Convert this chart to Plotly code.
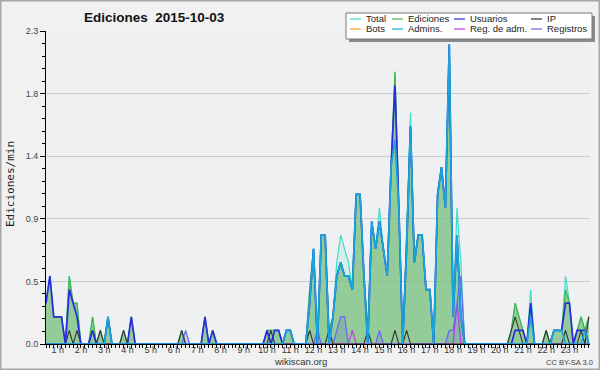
import plotly.graph_objects as go
import pandas as pd

# ---------------- data (10-minute bins, edits per minute) ----------------
START = "2015-10-03 00:30"
N = 141

total = [0.3,0.5,0.2,0.2,0.2,0,0.5,0.3,0.3,0,
         0,0,0.2,0,0.1,0,0.2,0,0,0,
         0.1,0,0.2,0,0,0,0,0,0,0,
         0,0,0,0,0,0.1,0,0,0,0,
         0,0.2,0,0.1,0,0,0,0,0,0,
         0,0,0,0,0,0,0,0.1,0.1,0.1,
         0.1,0,0.1,0.1,0,0,0,0,0.4,0.7,
         0,0.8,0.8,0.1,0.2,0.6,0.8,0.7,0.6,0.4,
         1.1,1.1,0.5,0.1,0.9,0.7,1.0,0.7,0.5,1.3,
         2.0,1.0,0,0.8,1.7,0.6,0.8,0.8,0.4,0.4,
         0,1.1,1.3,1.0,2.2,0.2,1.0,0.6,0,0,
         0,0,0,0,0,0,0,0,0,0,
         0.1,0.3,0.2,0.1,0,0.4,0,0,0,0.1,
         0,0.1,0.1,0.1,0.5,0.3,0,0.1,0.2,0.1,
         0.2]
edits = [0.3,0.5,0.2,0.2,0.2,0,0.5,0.3,0.3,0,
         0,0,0.2,0,0.1,0,0.2,0,0,0,
         0.1,0,0.2,0,0,0,0,0,0,0,
         0,0,0,0,0,0.1,0,0,0,0,
         0,0.2,0,0.1,0,0,0,0,0,0,
         0,0,0,0,0,0,0,0.1,0.1,0.1,
         0.1,0,0.1,0.1,0,0,0,0,0.4,0.7,
         0,0.8,0.8,0.1,0.2,0.5,0.6,0.5,0.5,0.4,
         1.1,1.1,0.5,0.1,0.9,0.7,0.9,0.7,0.5,1.3,
         2.0,1.0,0,0.8,1.6,0.6,0.8,0.8,0.4,0.4,
         0,1.1,1.3,1.0,2.2,0.2,0.8,0.2,0,0,
         0,0,0,0,0,0,0,0,0,0,
         0.1,0.3,0.2,0.1,0,0.3,0,0,0,0.1,
         0,0.1,0.1,0.1,0.4,0.3,0,0.1,0.2,0.1,
         0.2]
users = [0.3,0.5,0.2,0.2,0.2,0,0.4,0.3,0.2,0,
         0,0,0.1,0,0,0,0.2,0,0,0,
         0,0,0.2,0,0,0,0,0,0,0,
         0,0,0,0,0,0,0,0,0,0,
         0,0.2,0,0.1,0,0,0,0,0,0,
         0,0,0,0,0,0,0,0.1,0,0.1,
         0.1,0,0.1,0.1,0,0,0,0,0.3,0.7,
         0,0.8,0.8,0,0.2,0.5,0.6,0.5,0.5,0.4,
         1.1,1.1,0.5,0,0.9,0.7,0.9,0.7,0.5,1.3,
         1.9,1.0,0,0.7,1.6,0.6,0.8,0.8,0.4,0.4,
         0,1.1,1.3,1.0,2.2,0.2,0.8,0.2,0,0,
         0,0,0,0,0,0,0,0,0,0,
         0,0.1,0.1,0.1,0,0.3,0,0,0,0,
         0,0.1,0.1,0.1,0.3,0.3,0,0.1,0.1,0.1,
         0]
ip = [0,0,0,0,0,0,0.1,0,0.1,0,
      0,0,0.1,0,0.1,0,0,0,0,0,
      0.1,0,0,0,0,0,0,0,0,0,
      0,0,0,0,0,0.1,0,0,0,0,
      0,0,0,0,0,0,0,0,0,0,
      0,0,0,0,0,0,0,0,0.1,0,
      0,0,0,0,0,0,0,0,0.1,0,
      0,0,0,0.1,0,0,0,0,0,0,
      0,0,0,0.1,0,0,0,0,0,0,
      0.1,0,0,0.1,0,0,0,0,0,0,
      0,0,0,0,0,0,0,0,0,0,
      0,0,0,0,0,0,0,0,0,0,
      0.1,0.2,0.1,0,0,0,0,0,0,0.1,
      0,0,0,0,0.1,0,0,0,0.1,0,
      0.2]
bots = [0]*N
admins = [0,0,0,0,0,0,0,0,0,0,
          0,0,0,0,0,0,0.2,0,0,0,
          0,0,0,0,0,0,0,0,0,0,
          0,0,0,0,0,0,0,0,0,0,
          0,0,0,0,0,0,0,0,0,0,
          0,0,0,0,0,0,0,0,0,0,
          0,0,0.1,0.1,0,0,0,0,0.3,0.7,
          0,0.8,0.8,0,0.2,0.5,0.6,0.5,0.5,0.4,
          1.1,1.1,0.5,0,0.9,0.7,0.9,0.7,0.5,1.3,
          1.5,1.0,0,0.7,1.6,0.6,0.8,0.8,0.4,0.4,
          0,1.1,1.3,1.0,2.2,0.2,0.8,0.2,0,0,
          0,0,0,0,0,0,0,0,0,0,
          0,0,0,0,0,0.2,0,0,0,0,
          0,0.1,0.1,0.1,0,0,0,0,0,0.1,
          0]
reg_admins = [0]*79 + [0.1] + [0]*26 + [0.3] + [0]*34
registros = [0]*36 + [0.1] + [0]*33 + [0.1] + [0]*4 + [0.1,0.2,0.2] + [0]*8 + [0.1] + [0]*17 + [0.1,0.1,0.3,0.5] + [0]*33

names = ["Total", "Ediciones", "Usuarios", "IP", "Bots", "Admins.", "Reg. de adm.", "Registros"]
colors = ["#40dcc8", "#46b446", "#2a2ae0", "#333333", "#ff9a30", "#1aa6dc", "#cc33ee", "#6a6af0"]
series = [total, edits, users, ip, bots, admins, reg_admins, registros]

hour_ticks = list(range(1, 24))
hour_labels = [f"{h} h" for h in hour_ticks]

# ---------------- figure ----------------
times = pd.date_range(START, periods=N, freq="10min")

fig = go.Figure()
draw_order = [0, 1, 4, 6, 7, 3, 2, 5]
widths = {0: 1.2, 1: 1.2, 2: 1.7, 3: 1.1, 4: 1.2, 5: 1.7, 6: 1.2, 7: 1.3}
fills = {0: "rgba(64,220,200,0.13)", 1: "rgba(120,190,120,0.72)", 7: "rgba(90,90,220,0.18)"}
for k in draw_order:
    tr = dict(x=times, y=series[k], name=names[k], mode="lines",
              line=dict(color=colors[k], width=widths[k]), showlegend=False,
              hoverinfo="skip")
    if k in fills:
        tr["fill"] = "tozeroy"
        tr["fillcolor"] = fills[k]
    fig.add_trace(go.Scatter(**tr))

L, R, T, B = 46, 10, 31, 26
W, H = 600, 370
PW, PH = W - L - R, H - T - B

def px(x):
    return (x - L) / PW

def py(y):
    return (H - B - y) / PH

day = pd.Timestamp("2015-10-03")
fig.update_xaxes(
    type="date",
    range=[times[0], day + pd.Timedelta(hours=23, minutes=53)],
    tickmode="array",
    tickvals=[day + pd.Timedelta(hours=h) for h in hour_ticks],
    ticktext=hour_labels,
    ticks="outside", ticklen=3, tickcolor="black", tickwidth=1,
    ticklabelstandoff=-6,
    minor=dict(dtick=600000, tick0=times[0], ticks="outside", ticklen=3,
               tickcolor="black", showgrid=False),
    showgrid=False, showline=True, linecolor="black", linewidth=1,
    tickfont=dict(family="Liberation Sans", size=9, color="#333"),
    zeroline=False, fixedrange=True,
)
ymaj = [0, 0.46, 0.92, 1.38, 1.84, 2.3]
fig.update_yaxes(
    range=[0, 2.3],
    tickmode="array", tickvals=ymaj, ticktext=[f"{v:.1f}" for v in ymaj],
    ticks="outside", ticklen=5, tickcolor="black",
    minor=dict(tickmode="array", tickvals=[k * 0.092 for k in range(26)],
               ticks="outside", ticklen=3, tickcolor="black", showgrid=False),
    showgrid=True, gridcolor="#cccccc", gridwidth=1,
    showline=True, linecolor="black", linewidth=1,
    tickfont=dict(family="Liberation Sans", size=9, color="#444"),
    zeroline=False, fixedrange=True,
)

shapes = []
annotations = []
# outer frame
shapes.append(dict(type="rect", xref="paper", yref="paper",
                   x0=px(0.5), x1=px(W - 0.5), y0=py(H - 0.5), y1=py(0.5),
                   line=dict(color="#a8a8a8", width=2), layer="above"))
# legend box with shadow
lx0, lx1, ly0, ly1 = 346, 592, 13, 39
shapes.append(dict(type="rect", xref="paper", yref="paper",
                   x0=px(lx0 + 3), x1=px(lx1 + 3), y0=py(ly1 + 3), y1=py(ly0 + 3),
                   fillcolor="#8a8a8a", line=dict(width=0), layer="above"))
shapes.append(dict(type="rect", xref="paper", yref="paper",
                   x0=px(lx0), x1=px(lx1), y0=py(ly1), y1=py(ly0),
                   fillcolor="white", line=dict(color="#777777", width=1), layer="above"))
col_x = [350, 392, 454, 531]
row_y = [19, 29]
for idx, nm in enumerate(names):
    c, r = idx % 4, idx // 4
    x0 = col_x[c]
    y = row_y[r]
    shapes.append(dict(type="line", xref="paper", yref="paper",
                       x0=px(x0), x1=px(x0 + 11), y0=py(y), y1=py(y),
                       line=dict(color=colors[idx], width=1.2), layer="above"))
    annotations.append(dict(text=nm, xref="paper", yref="paper", x=px(x0 + 14), y=py(y),
                            xanchor="left", yanchor="middle", showarrow=False,
                            font=dict(family="Liberation Sans", size=9.5, color="#222")))

annotations.append(dict(text="Ediciones\u00a0 2015-10-03", xref="paper", yref="paper",
                        x=px(154), y=py(17), xanchor="center", yanchor="middle",
                        showarrow=False,
                        font=dict(family="Liberation Sans", size=13.5, color="#111",
                                  weight="bold")))
annotations.append(dict(text="Ediciones/min", xref="paper", yref="paper",
                        x=px(10), y=py(184), xanchor="center", yanchor="middle",
                        textangle=-90, showarrow=False,
                        font=dict(family="DejaVu Sans Mono", size=11, color="#222")))
annotations.append(dict(text="wikiscan.org", xref="paper", yref="paper",
                        x=px(300), y=py(361), xanchor="center", yanchor="middle",
                        showarrow=False,
                        font=dict(family="Liberation Sans", size=9.5, color="#333")))
annotations.append(dict(text="CC BY-SA 3.0", xref="paper", yref="paper",
                        x=px(569), y=py(362), xanchor="center", yanchor="middle",
                        showarrow=False,
                        font=dict(family="Liberation Sans", size=7.5, color="#444")))

fig.update_layout(
    width=W, height=H,
    margin=dict(l=L, r=R, t=T, b=B, pad=0),
    paper_bgcolor="#f1f1f1", plot_bgcolor="#eef0f2",
    shapes=shapes, annotations=annotations,
    showlegend=False,
)

fig.write_html("out.html", config={"displayModeBar": False},
               post_script="document.body.style.margin='0';document.body.style.overflow='hidden';")
